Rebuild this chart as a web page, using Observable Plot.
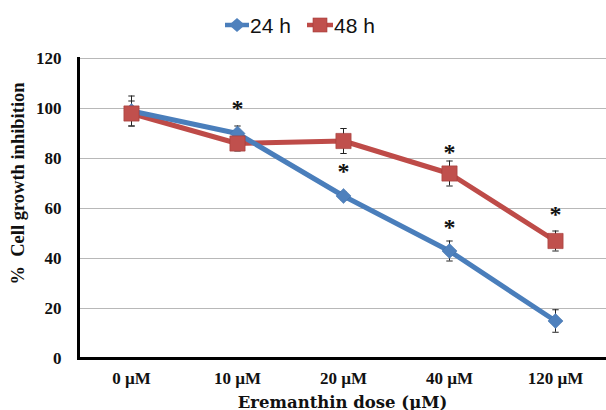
<!DOCTYPE html>
<html>
<head>
<meta charset="utf-8">
<script src="https://cdn.jsdelivr.net/npm/d3@7"></script>
<script src="https://cdn.jsdelivr.net/npm/@observablehq/plot@0.6"></script>
<style>
  html, body { margin: 0; padding: 0; background: #fff; }
  #legend { display: block; }
  #chart svg { display: block; overflow: visible; }
</style>
</head>
<body>
<svg id="legend" width="606" height="40"></svg>
<div id="chart"></div>
<script>
// ---- data ----
const doses = ["0 µM", "10 µM", "20 µM", "40 µM", "120 µM"];
const series = ["24 h", "48 h"];
const h24 = [99, 90, 65, 43, 15];
const h24err = [6, 3, 1.5, 4, 4.5];
const h48 = [98, 86, 87, 74, 47];
const h48err = [5, 3, 5, 5, 4];
// significance stars (dose, height of star)
const starDoses = ["10 µM", "20 µM", "40 µM", "40 µM", "120 µM"];
const starHeights = [100, 75, 82.5, 52.5, 57.5];
const yTicks = [0, 20, 40, 60, 80, 100, 120];

const colors = {"24 h": "#4A7EBB", "48 h": "#BE4B48"};
const fills = {"24 h": "#4F81BD", "48 h": "#C0504D"};

const rows24 = doses.map((d, i) => ({dose: d, v: h24[i], lo: h24[i] - h24err[i], hi: h24[i] + h24err[i]}));
const rows48 = doses.map((d, i) => ({dose: d, v: h48[i], lo: h48[i] - h48err[i], hi: h48[i] + h48err[i]}));
const stars = starDoses.map((d, i) => ({dose: d, y: starHeights[i]}));
const allBars = [...rows24, ...rows48];

const cap = {draw(ctx, size) { const w = Math.sqrt(size) / 2; ctx.moveTo(-w, 0); ctx.lineTo(w, 0); }};

// ---- legend ----
(function () {
  const svg = d3.select("#legend");
  const items = [
    {name: series[0], x0: 225, x1: 249, text: 250, sym: "diamond"},
    {name: series[1], x0: 307, x1: 333, text: 334, sym: "square"}
  ];
  const cy = 25;
  for (const it of items) {
    svg.append("line").attr("x1", it.x0).attr("x2", it.x1).attr("y1", cy).attr("y2", cy)
      .attr("stroke", colors[it.name]).attr("stroke-width", 4.5);
    const cx = (it.x0 + it.x1) / 2;
    if (it.sym === "diamond") {
      svg.append("path").attr("d", `M${cx},${cy - 7}L${cx + 8},${cy}L${cx},${cy + 7}L${cx - 8},${cy}Z`)
        .attr("fill", fills[it.name]);
    } else {
      svg.append("rect").attr("x", cx - 7).attr("y", cy - 7).attr("width", 14).attr("height", 14)
        .attr("fill", fills[it.name]).attr("stroke", "#A33B38").attr("stroke-width", 0.6);
    }
    svg.append("text").attr("x", it.text).attr("y", cy + 7.5).text(it.name)
      .attr("font-family", "Liberation Sans, Arial, sans-serif").attr("font-size", 21).attr("fill", "#111");
  }
})();

// ---- chart ----
const serif = "'Liberation Serif', 'Times New Roman', serif";
const chart = Plot.plot({
  width: 606,
  height: 370,
  marginTop: 18,
  marginBottom: 52,
  marginLeft: 78,
  marginRight: 0,
  style: {fontFamily: serif, background: "#fff"},
  x: {type: "point", domain: doses, range: [130, 556], padding: 0, label: null},
  y: {domain: [0, 120], label: null},
  marks: [
    Plot.gridY(yTicks.slice(1), {stroke: "#b8b8b8", strokeOpacity: 1, strokeWidth: 1}),
    Plot.axisY(yTicks, {tickSize: 0, tickPadding: 17, fontSize: 17, fontWeight: "bold", fill: "#111", label: null}),
    Plot.axisX(doses, {tickSize: 0, tickPadding: 13, fontSize: 17, fontWeight: "bold", fill: "#111", label: null}),
    Plot.frame({anchor: "left", stroke: "#000", strokeWidth: 3}),
    Plot.frame({anchor: "bottom", stroke: "#000", strokeWidth: 3}),
    Plot.line(rows48, {x: "dose", y: "v", stroke: colors["48 h"], strokeWidth: 5}),
    Plot.line(rows24, {x: "dose", y: "v", stroke: colors["24 h"], strokeWidth: 5}),
    Plot.ruleX(allBars, {x: "dose", y1: "lo", y2: "hi", stroke: "#222", strokeWidth: 1}),
    Plot.dot(allBars, {x: "dose", y: "lo", symbol: cap, r: 3.6, stroke: "#222", strokeWidth: 1, fill: "none"}),
    Plot.dot(allBars, {x: "dose", y: "hi", symbol: cap, r: 3.6, stroke: "#222", strokeWidth: 1, fill: "none"}),
    Plot.dot(rows24, {x: "dose", y: "v", symbol: "diamond2", r: 6.8, fill: fills["24 h"], stroke: "#3F6FA8", strokeWidth: 0.5}),
    Plot.dot(rows48, {x: "dose", y: "v", symbol: "square", r: 8.6, fill: fills["48 h"], stroke: "#A33B38", strokeWidth: 0.6}),
    Plot.text(stars, {x: "dose", y: "y", text: () => "*", fontSize: 24, fontWeight: "bold", fill: "#111", lineAnchor: "middle"}),
    Plot.text(["%  Cell growth inhibition"], {frameAnchor: "left", textAnchor: "middle", rotate: -90, dx: -60, dy: -25, fontSize: 18.5, fontWeight: "bold", fill: "#111", lineAnchor: "middle"}),
    Plot.text(["Eremanthin dose (µM)"], {frameAnchor: "bottom", textAnchor: "middle", dy: 49, fontFamily: "'DejaVu Serif', serif", fontSize: 16.5, fontWeight: "bold", fill: "#111", lineAnchor: "bottom"})
  ]
});
document.getElementById("chart").appendChild(chart);
</script>
</body>
</html>
